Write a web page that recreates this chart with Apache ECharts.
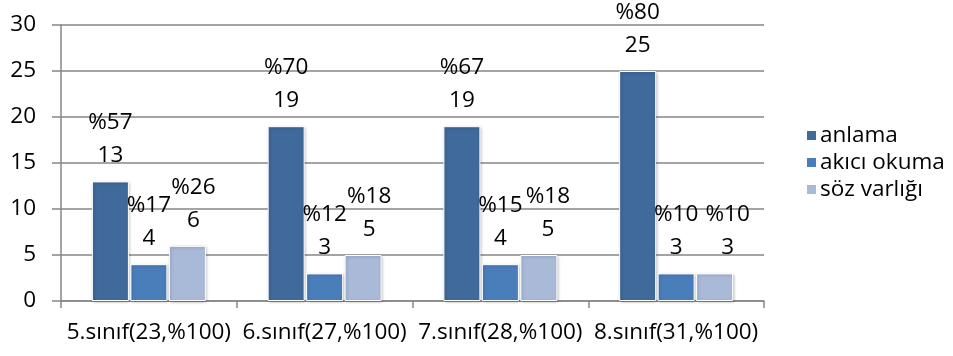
<!DOCTYPE html>
<html><head><meta charset="utf-8">
<script src="https://cdn.jsdelivr.net/npm/echarts@6/dist/echarts.min.js"></script>
<style>html,body{margin:0;padding:0;background:#fff}#c{width:953px;height:356px}</style>
</head><body><div id="c"></div>
<script>
const categories = ['5.sınıf(23,%100)', '6.sınıf(27,%100)', '7.sınıf(28,%100)', '8.sınıf(31,%100)'];
const seriesNames = ['anlama', 'akıcı okuma', 'söz varlığı'];
const anlama = [13, 19, 19, 25];
const akiciOkuma = [4, 3, 4, 3];
const sozVarligi = [6, 5, 5, 3];
const anlamaPct = [57, 70, 67, 80];
const akiciOkumaPct = [17, 12, 15, 10];
const sozVarligiPct = [26, 18, 18, 10];
const yTicks = [0, 5, 10, 15, 20, 25, 30];

const FONT = 'Open Sans';
const colors = ['#40699C', '#4A7EBB', '#A9BAD8'];
const values = [anlama, akiciOkuma, sozVarligi];
const pcts = [anlamaPct, akiciOkumaPct, sozVarligiPct];
// small horizontal nudges Excel applied to avoid label overlap (style only)
const labelNudge = [[0, 0, 0, 0], [0, 0, 0, 0], [6, 6, 9, 13]];

const chart = echarts.init(document.getElementById('c'));
chart.setOption({
  animation: false,
  textStyle: { fontFamily: FONT },
  grid: { left: 61, right: 189, top: 25, bottom: 55 },
  legend: {
    orient: 'vertical', left: 800, top: 119,
    itemWidth: 11, itemHeight: 11, itemGap: 4, icon: 'rect',
    textStyle: { fontFamily: FONT, fontSize: 22.5, color: '#000', padding: [0, 0, 0, -2] },
    data: seriesNames
  },
  xAxis: {
    type: 'category', data: categories,
    axisLine: { lineStyle: { color: '#868686', width: 1.5 } },
    axisTick: { show: true, length: 7, lineStyle: { color: '#868686', width: 1.5 } },
    axisLabel: { interval: 0, fontFamily: FONT, fontSize: 22.5, color: '#000', margin: 20 }
  },
  yAxis: {
    type: 'value', min: yTicks[0], max: yTicks[yTicks.length - 1], interval: 5,
    axisLine: { show: true, lineStyle: { color: '#868686', width: 1.5 } },
    axisTick: { show: true, length: 9, lineStyle: { color: '#868686', width: 1.5 } },
    splitLine: { lineStyle: { color: '#868686', width: 1.5 } },
    axisLabel: { fontFamily: FONT, fontSize: 22.5, color: '#000', margin: 25 }
  },
  series: seriesNames.map((name, si) => ({
    name, type: 'bar',
    data: values[si].map((v, i) => ({ value: v, label: { offset: [labelNudge[si][i], 0] } })),
    barWidth: 37, barGap: '4%',
    itemStyle: { color: colors[si], borderColor: '#fff', borderWidth: 1,
      shadowColor: 'rgba(0,0,0,0.25)', shadowBlur: 3, shadowOffsetX: 1, shadowOffsetY: 1 },
    label: {
      show: true, position: 'top', distance: 9,
      fontFamily: FONT, fontSize: 22.5, color: '#000', lineHeight: 33,
      formatter: p => '%' + pcts[si][p.dataIndex] + '\n' + p.value
    }
  }))
});
</script></body></html>
